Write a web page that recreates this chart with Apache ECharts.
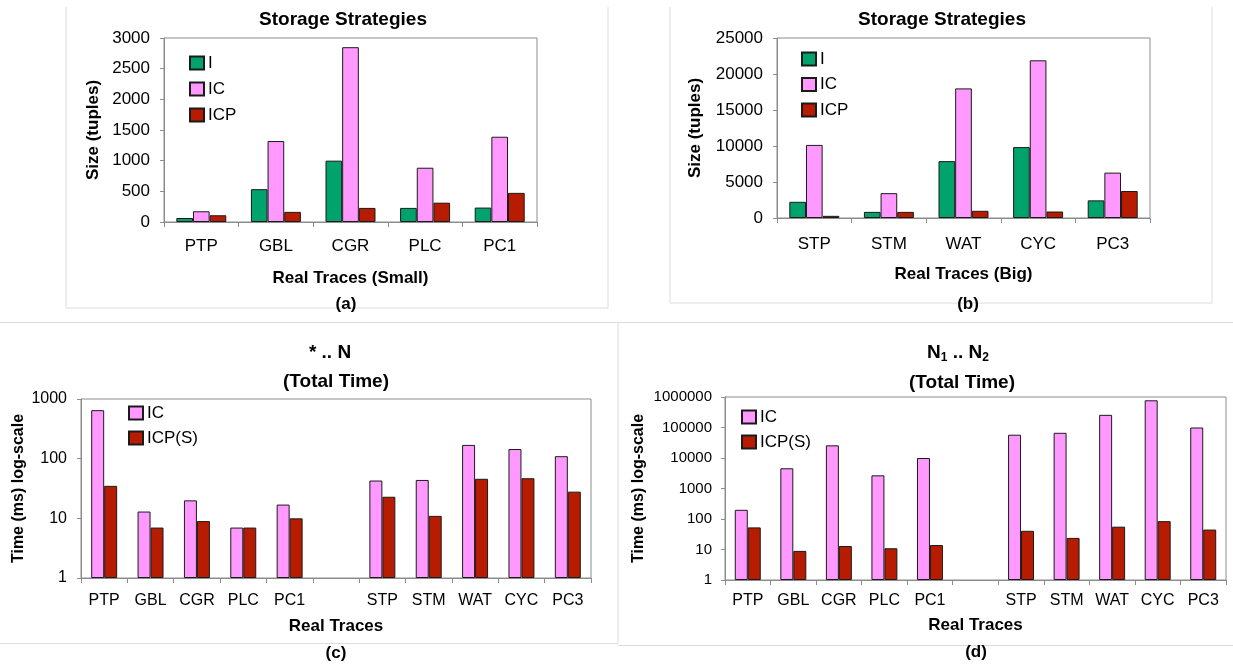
<!DOCTYPE html>
<html>
<head>
<meta charset="utf-8">
<script src="https://cdn.jsdelivr.net/npm/echarts@6/dist/echarts.min.js"></script>
<style>
  html, body { margin: 0; padding: 0; background: #fff; }
  #chart { width: 1233px; height: 667px; }
</style>
</head>
<body>
<div id="chart"></div>
<script>
// Trace names
const smallTraces = ['PTP', 'GBL', 'CGR', 'PLC', 'PC1'];
const bigTraces = ['STP', 'STM', 'WAT', 'CYC', 'PC3'];
const allTraces = ['PTP', 'GBL', 'CGR', 'PLC', 'PC1', '', 'STP', 'STM', 'WAT', 'CYC', 'PC3'];

// (a) storage size, small traces (tuples)
const smallI = [65, 535, 1000, 230, 235];
const smallIC = [175, 1320, 2850, 885, 1390];
const smallICP = [110, 165, 230, 315, 475];

// (b) storage size, big traces (tuples)
const bigI = [2250, 850, 7900, 9850, 2450];
const bigIC = [10150, 3450, 18000, 21900, 6300];
const bigICP = [300, 850, 1000, 900, 3750];

// (c) total time for "* .. N" queries (ms)
const starIC = [650, 13, 20, 7, 17, '-', 43, 44, 170, 145, 110];
const starICPS = [35, 7, 9, 7, 10, '-', 23, 11, 46, 47, 28];

// (d) total time for "N1 .. N2" queries (ms)
const rangeIC = [200, 4600, 26000, 2700, 10000, '-', 58000, 67000, 260000, 780000, 100000];
const rangeICPS = [53, 9, 13, 11, 14, '-', 41, 24, 56, 85, 45];

// Axis tick values
const sizeTicksSmall = { min: 0, max: 3000, interval: 500 };
const sizeTicksBig = { min: 0, max: 25000, interval: 5000 };
const timeTicksStar = { min: 1, max: 1000 };
const timeTicksRange = { min: 1, max: 1000000 };

const FONT = '"Liberation Sans", Arial, sans-serif';
const GREEN = '#00A36C';
const PINK = '#FF99FF';
const RED = '#B81C00';
const EDGE = '#1a1a1a';
const AXIS = '#8c8c8c';
const FRAME = '#dcdcdc';

const plainNum = v => String(Math.round(v));

function catAxis(gridIndex, data, fontSize, margin, name, nameGap) {
  return {
    type: 'category', gridIndex, data,
    boundaryGap: true,
    axisLine: { lineStyle: { color: AXIS, width: 1 } },
    axisTick: { show: true, interval: 0, length: 5, lineStyle: { color: AXIS } },
    axisLabel: { interval: 0, fontFamily: FONT, fontSize, color: '#000', margin },
    name, nameLocation: 'middle', nameGap,
    nameTextStyle: { fontFamily: FONT, fontSize: 17, fontWeight: 'bold', color: '#000' },
    splitLine: { show: false }
  };
}

function valAxis(gridIndex, ticks, type, fontSize, margin, name, nameGap, nameSize) {
  const ax = {
    type, gridIndex, min: ticks.min, max: ticks.max,
    axisLine: { show: true, lineStyle: { color: AXIS, width: 1 } },
    axisTick: { show: true, length: 4, lineStyle: { color: AXIS } },
    axisLabel: { fontFamily: FONT, fontSize, color: '#000', margin, formatter: plainNum },
    splitLine: { show: false },
    name, nameLocation: 'middle', nameGap,
    nameTextStyle: { fontFamily: FONT, fontSize: nameSize, fontWeight: 'bold', color: '#000' }
  };
  if (ticks.interval) ax.interval = ticks.interval;
  if (type === 'log') ax.logBase = 10;
  return ax;
}

function bars(name, data, color, axisIndex, catGap) {
  return {
    type: 'bar', name, data,
    xAxisIndex: axisIndex, yAxisIndex: axisIndex,
    barGap: '0%', barCategoryGap: catGap,
    itemStyle: { color, borderColor: EDGE, borderWidth: 1 },
    emphasis: { disabled: true },
    animation: false
  };
}

function legendAt(left, top, names, fontSize, gap) {
  return {
    orient: 'vertical', left, top, padding: 0,
    itemWidth: 14, itemHeight: 13, itemGap: gap,
    icon: 'rect', data: names,
    textStyle: { fontFamily: FONT, fontSize, color: '#000', padding: [0, 0, 0, -1] },
    selectedMode: false
  };
}

function label(text, x, y, size) {
  return {
    type: 'text', x, y,
    style: { text, fontFamily: FONT, fontSize: size, fontWeight: 'bold', fill: '#000',
             align: 'center', verticalAlign: 'middle' }
  };
}

function line(x1, y1, x2, y2) {
  return { type: 'line', shape: { x1, y1, x2, y2 }, style: { stroke: FRAME, lineWidth: 1 }, silent: true };
}

const chart = echarts.init(document.getElementById('chart'), null, { renderer: 'canvas' });

const gridBox = { show: true, borderColor: AXIS, borderWidth: 1, backgroundColor: 'transparent' };

chart.setOption({
  animation: false,
  backgroundColor: '#fff',
  grid: [
    Object.assign({ left: 164, top: 38, width: 373, height: 184 }, gridBox),
    Object.assign({ left: 777, top: 38, width: 373, height: 180 }, gridBox),
    Object.assign({ left: 81, top: 399, width: 510, height: 179 }, gridBox),
    Object.assign({ left: 725, top: 397, width: 501, height: 183 }, gridBox)
  ],
  xAxis: [
    catAxis(0, smallTraces, 17, 16, 'Real Traces (Small)', 48),
    catAxis(1, bigTraces, 17, 18, 'Real Traces (Big)', 48),
    catAxis(2, allTraces, 16, 15, 'Real Traces', 40),
    catAxis(3, allTraces, 16, 13, 'Real Traces', 37)
  ],
  yAxis: [
    valAxis(0, sizeTicksSmall, 'value', 17, 14, 'Size (tuples)', 62, 17),
    valAxis(1, sizeTicksBig, 'value', 17, 14, 'Size (tuples)', 73, 17),
    valAxis(2, timeTicksStar, 'log', 16, 14, 'Time (ms) log-scale', 54, 16),
    valAxis(3, timeTicksRange, 'log', 15, 13, 'Time (ms) log-scale', 78, 16)
  ],
  legend: [
    legendAt(189, 54.5, ['I', 'IC', 'ICP'], 17, 9),
    legendAt(801, 50.5, ['I', 'IC', 'ICP'], 17, 8.5),
    legendAt(128, 404.5, ['IC', 'ICP(S)'], 17, 8),
    legendAt(741, 408.5, ['IC', 'ICP(S)'], 17, 8)
  ],
  series: [
    bars('I', smallI, GREEN, 0, '33%'),
    bars('IC', smallIC, PINK, 0, '33%'),
    bars('ICP', smallICP, RED, 0, '33%'),
    bars('I', bigI, GREEN, 1, '33%'),
    bars('IC', bigIC, PINK, 1, '33%'),
    bars('ICP', bigICP, RED, 1, '33%'),
    bars('IC', starIC, PINK, 2, '44%'),
    bars('ICP(S)', starICPS, RED, 2, '44%'),
    bars('IC', rangeIC, PINK, 3, '43%'),
    bars('ICP(S)', rangeICPS, RED, 3, '43%')
  ],
  graphic: [
    // panel frames
    line(66, 7, 66, 308), line(608, 7, 608, 308), line(66, 308, 608, 308),
    line(670, 7, 670, 303), line(1212, 7, 1212, 303), line(670, 303, 1212, 303),
    line(0, 322.5, 1233, 322.5), line(618, 322.5, 618, 643), line(0, 643.5, 618, 643.5),
    line(618, 645.5, 1233, 645.5),
    // titles
    label('Storage Strategies', 343, 20, 19),
    label('Storage Strategies', 942, 20, 19),
    label('* .. N', 330, 353, 19),
    label('(Total Time)', 336, 382, 19),
    {
      type: 'text', x: 958, y: 353,
      style: {
        text: '{m|N}{s|1}{m| .. N}{s|2}',
        fontFamily: FONT, fontWeight: 'bold', fill: '#000',
        align: 'center', verticalAlign: 'middle',
        rich: {
          m: { fontFamily: FONT, fontSize: 19, fontWeight: 'bold', fill: '#000' },
          s: { fontFamily: FONT, fontSize: 12, fontWeight: 'bold', fill: '#000', padding: [10, 0, 0, 0] }
        }
      }
    },
    label('(Total Time)', 962, 383, 19),
    // panel captions
    label('(a)', 346, 304, 17),
    label('(b)', 968, 304, 17),
    label('(c)', 336, 653, 17),
    label('(d)', 976, 652, 17)
  ]
});
</script>
</body>
</html>
